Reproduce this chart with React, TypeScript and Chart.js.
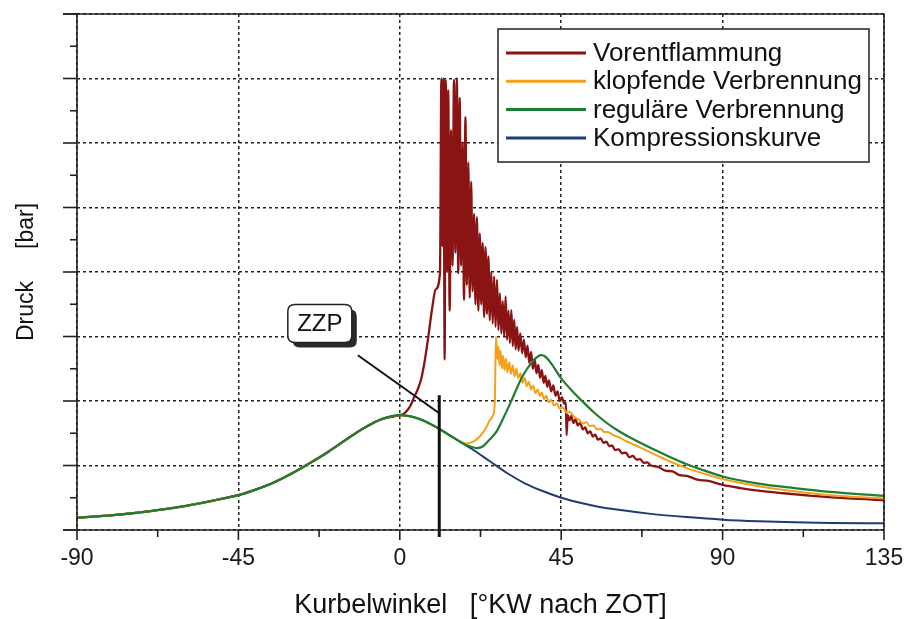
import React, { useEffect, useRef } from 'react';
import { Chart, registerables } from 'chart.js';

Chart.register(...registerables);

// ---- axis ticks ----
const xTicks = [-90, -45, 0, 45, 90, 135];
const yMin = 0;
const yMax = 80;
const yStep = 10;

// ---- series names & colours ----
const seriesNames = ['Vorentflammung', 'klopfende Verbrennung', 'reguläre Verbrennung', 'Kompressionskurve'];
const seriesColors = ['#8a1414', '#f5a01a', '#1e7d32', '#1f3d73'];

// ---- Kompressionskurve ----
const compressionAngles = [-90, -80, -70, -60, -50, -45, -40, -35, -30, -25, -20, -15, -10, -5, 0, 5, 10, 15, 20, 25, 30, 35, 40, 45, 50, 55, 60, 70, 80, 90, 100, 110, 120, 135];
const compressionValues = [1.9, 2.3, 2.9, 3.7, 4.8, 5.4, 6.3, 7.4, 8.8, 10.4, 12.1, 14.0, 15.8, 17.2, 17.8, 17.3, 16.0, 14.3, 12.6, 10.7, 8.8, 7.2, 6.0, 5.0, 4.25, 3.65, 3.2, 2.5, 2.0, 1.6, 1.35, 1.2, 1.1, 1.05];

// ---- reguläre Verbrennung (after leaving the compression curve) ----
const regularAngles = [18, 20, 21.5, 23, 25, 27, 29, 31, 32.5, 34, 35.5, 37, 38.5, 39.5, 40.5, 42, 45, 48, 51, 54, 57, 60, 65, 70, 75, 80, 85, 90, 100, 110, 120, 135];
const regularValues = [13.3, 12.9, 12.7, 12.9, 14.0, 15.3, 17.5, 19.9, 21.8, 23.6, 25.0, 26.1, 26.9, 27.1, 26.9, 26.0, 23.5, 21.6, 19.9, 18.3, 16.9, 15.7, 14.1, 12.7, 11.4, 10.2, 9.2, 8.3, 7.2, 6.5, 5.9, 5.3];

// ---- klopfende Verbrennung ----
const knockAngles = [17, 18.6, 20.5, 22.3, 24, 25.1, 26.0, 26.5, 26.8, 27.2, 27.5, 27.8, 28.1, 28.5, 28.8, 29.2, 29.6, 30, 30.5, 31, 31.5, 32, 32.5, 33, 33.6, 34.2, 34.8, 35.4, 36, 36.6, 37.2, 37.8, 38.4, 39, 39.6, 40.2, 40.8, 41.5, 42.2, 43, 43.8, 44.6, 45.5, 46.5, 47.5, 48.5, 50.2, 51, 52, 53, 54, 55, 56, 57, 58, 59.5, 61, 63, 65, 67, 70, 75, 80, 85, 90, 100, 110, 120, 135];
const knockValues = [13.7, 13.4, 13.7, 14.5, 15.8, 17.0, 17.8, 20.0, 30.0, 26.5, 28.5, 25.5, 27.8, 25.0, 27.0, 24.8, 26.5, 24.5, 26.0, 24.2, 25.5, 23.8, 25.0, 23.5, 24.3, 22.8, 23.6, 22.3, 23.0, 21.8, 22.4, 21.2, 21.8, 20.8, 21.3, 20.3, 20.8, 19.8, 20.2, 19.3, 19.6, 18.8, 19.0, 18.2, 18.3, 17.6, 17.0, 16.5, 16.7, 16.1, 16.2, 15.6, 15.7, 15.2, 15.2, 14.7, 14.4, 13.8, 13.3, 12.8, 12.0, 10.7, 9.6, 8.7, 7.9, 6.8, 6.0, 5.4, 4.9];

// ---- Vorentflammung ----
const preignitionAngles = [0, 1, 2, 3, 4, 5, 6, 7, 8, 9, 10, 11.2,
  11.6, 11.9, 12.2, 12.5, 12.8, 13.2, 13.5, 13.9, 14.3, 14.7, 15.1, 15.5, 15.9, 16.3, 16.7, 17.1, 17.5, 17.9, 18.3, 18.7, 19.1, 19.5, 19.9, 20.3, 20.7, 21.1, 21.5, 21.9, 22.3, 22.7, 23.1, 23.5, 23.9, 24.3, 24.7, 25.1, 25.5, 25.9, 26.3, 26.7, 27.1, 27.5, 27.9, 28.3, 28.7, 29.1, 29.5, 29.9, 30.3, 30.7, 31.1, 31.5, 31.9, 32.3, 32.7, 33.1, 33.6, 34.1, 34.6, 35.1, 35.6, 36.1, 36.6, 37.1, 37.6, 38.1, 38.6, 39.1, 39.6, 40.1, 40.6, 41.1, 41.6, 42.2, 42.8, 43.4, 44, 44.6, 45.2, 45.8, 46.3, 46.5,
  46.8, 47.3, 47.8, 48.4, 49, 49.6, 50.3, 51, 51.7, 52.4, 53.1, 53.8, 54.5, 55.2, 56, 56.8, 57.6, 58.4, 59.2, 60, 61, 62, 63, 64, 65, 66, 67, 68, 69, 70, 72, 74, 76, 78, 80, 83, 86, 90, 95, 100, 107, 115, 125, 135];
const preignitionValues = [17.8, 18.0, 18.5, 19.3, 20.6, 21.8, 23.5, 26.4, 30.2, 34.3, 37.3, 39.8,
  70, 44, 70, 26.4, 69.8, 40, 68.2, 34, 62, 41, 69.8, 43, 70, 39.8, 67, 41, 60, 35.7, 64, 38, 57, 36, 54, 37, 49, 35, 48.5, 34, 46, 35, 44.5, 33, 43.9, 33.5, 42.4, 32.5, 40, 32, 39.3, 31.5, 38.8, 31, 36.7, 30.5, 35.5, 30, 36.2, 29.5, 34, 29, 34.1, 28.5, 32.6, 28, 31.5, 27.8, 30.5, 27.4, 29.5, 26.8, 28.6, 25.9, 27.6, 25, 26.5, 24.3, 25.6, 23.6, 24.8, 22.8, 23.9, 22.2, 23.2, 21.5, 22.4, 20.8, 21.5, 20.0, 20.6, 19.6, 19.8, 14.7,
  17.8, 17.0, 17.7, 16.6, 17.2, 16.2, 16.6, 15.6, 15.9, 15.0, 15.3, 14.5, 14.8, 14.0, 14.2, 13.5, 13.7, 13.0, 13.1, 12.4, 12.5, 11.9, 12.0, 11.3, 11.5, 10.9, 11.0, 10.4, 10.5, 10.0, 9.8, 9.2, 9.1, 8.5, 8.4, 7.8, 7.6, 7.0, 6.5, 6.1, 5.7, 5.3, 4.9, 4.65];

// ---- ZZP annotation (data coordinates) ----
const zzpAngle = 11;
const zzpLineTop = 20.9;
const zzpLabel = 'ZZP';
const zzpLabelAt = { x: -22.3, y: 32 };
const zzpLeaderFrom = { x: -11.7, y: 27.1 };
const zzpLeaderTo = { x: 11, y: 18.1 };

const xTitle = 'Kurbelwinkel   [°KW nach ZOT]';
const yTitle = 'Druck     [bar]';

const FONT = "'Liberation Sans', Arial, Helvetica, sans-serif";

function toPoints(a: number[], v: number[]) {
  return a.map((x, i) => ({ x, y: v[i] }));
}

function compressionUntil(limit: number, inclusive: boolean) {
  const pts = toPoints(compressionAngles, compressionValues);
  return pts.filter((p) => (inclusive ? p.x <= limit : p.x < limit));
}

function roundRect(ctx: CanvasRenderingContext2D, x: number, y: number, w: number, h: number, r: number) {
  ctx.beginPath();
  ctx.moveTo(x + r, y);
  ctx.lineTo(x + w - r, y);
  ctx.quadraticCurveTo(x + w, y, x + w, y + r);
  ctx.lineTo(x + w, y + h - r);
  ctx.quadraticCurveTo(x + w, y + h, x + w - r, y + h);
  ctx.lineTo(x + r, y + h);
  ctx.quadraticCurveTo(x, y + h, x, y + h - r);
  ctx.lineTo(x, y + r);
  ctx.quadraticCurveTo(x, y, x + r, y);
  ctx.closePath();
}

const decorPlugin = {
  id: 'decor',
  afterDatasetsDraw(chart: any) {
    const { ctx, chartArea: ca } = chart;
    const xs = chart.scales.x;
    const ys = chart.scales.y;
    ctx.save();

    // frame and axes
    ctx.strokeStyle = '#222';
    ctx.lineWidth = 1.6;
    ctx.setLineDash([]);
    ctx.beginPath();
    ctx.moveTo(ca.left - 14, ca.top);
    ctx.lineTo(ca.right, ca.top);
    ctx.lineTo(ca.right, ca.bottom);
    ctx.lineTo(ca.left - 14, ca.bottom);
    ctx.moveTo(ca.left, ca.top);
    ctx.lineTo(ca.left, ca.bottom);
    ctx.stroke();

    // y ticks (major + minor)
    for (let v = yMin; v <= yMax; v += yStep / 2) {
      const py = ys.getPixelForValue(v);
      const len = v % yStep === 0 ? 14 : 7;
      ctx.beginPath();
      ctx.moveTo(ca.left - len, py);
      ctx.lineTo(ca.left, py);
      ctx.stroke();
    }
    // x ticks (major + minor)
    for (let i = 0; i < xTicks.length; i++) {
      const major = xs.getPixelForValue(xTicks[i]);
      ctx.beginPath();
      ctx.moveTo(major, ca.bottom);
      ctx.lineTo(major, ca.bottom + 10);
      ctx.stroke();
      if (i < xTicks.length - 1) {
        const minor = xs.getPixelForValue((xTicks[i] + xTicks[i + 1]) / 2);
        ctx.beginPath();
        ctx.moveTo(minor, ca.bottom);
        ctx.lineTo(minor, ca.bottom + 7);
        ctx.stroke();
      }
    }

    // ZZP vertical marker
    const zx = xs.getPixelForValue(zzpAngle);
    ctx.strokeStyle = '#111';
    ctx.lineWidth = 3;
    ctx.beginPath();
    ctx.moveTo(zx, ys.getPixelForValue(zzpLineTop));
    ctx.lineTo(zx, ca.bottom + 7);
    ctx.stroke();

    // leader line
    ctx.lineWidth = 2;
    ctx.beginPath();
    ctx.moveTo(xs.getPixelForValue(zzpLeaderFrom.x), ys.getPixelForValue(zzpLeaderFrom.y));
    ctx.lineTo(xs.getPixelForValue(zzpLeaderTo.x), ys.getPixelForValue(zzpLeaderTo.y));
    ctx.stroke();

    // ZZP box
    const cx = xs.getPixelForValue(zzpLabelAt.x);
    const cy = ys.getPixelForValue(zzpLabelAt.y);
    const bw = 64, bh = 38;
    const bx = cx - bw / 2, by = cy - bh / 2;
    ctx.fillStyle = '#2a2a2a';
    roundRect(ctx, bx + 5, by + 5, bw, bh, 7);
    ctx.fill();
    ctx.fillStyle = '#ffffff';
    roundRect(ctx, bx, by, bw, bh, 7);
    ctx.fill();
    ctx.strokeStyle = '#222';
    ctx.lineWidth = 1.5;
    ctx.stroke();
    ctx.fillStyle = '#111';
    ctx.font = `24px ${FONT}`;
    ctx.textAlign = 'center';
    ctx.textBaseline = 'middle';
    ctx.fillText(zzpLabel, cx, cy + 1);

    // legend
    const lw = 371, lh = 133;
    const lx = ca.right - 15 - lw;
    const ly = ca.top + 15;
    ctx.fillStyle = '#ffffff';
    ctx.fillRect(lx, ly, lw, lh);
    ctx.strokeStyle = '#222';
    ctx.lineWidth = 1.5;
    ctx.strokeRect(lx, ly, lw, lh);
    ctx.font = `26px ${FONT}`;
    ctx.textAlign = 'left';
    ctx.textBaseline = 'middle';
    for (let i = 0; i < seriesNames.length; i++) {
      const ry = ly + 24 + i * 28.3;
      ctx.strokeStyle = seriesColors[i];
      ctx.lineWidth = 3;
      ctx.beginPath();
      ctx.moveTo(lx + 8, ry);
      ctx.lineTo(lx + 88, ry);
      ctx.stroke();
      ctx.fillStyle = '#111';
      ctx.fillText(seriesNames[i], lx + 95, ry + 1);
    }

    // axis titles
    ctx.fillStyle = '#111';
    ctx.font = `27px ${FONT}`;
    ctx.textAlign = 'center';
    ctx.textBaseline = 'middle';
    ctx.fillText(xTitle, (ca.left + ca.right) / 2, 606);
    ctx.save();
    ctx.translate(27, (ca.top + ca.bottom) / 2);
    ctx.rotate(-Math.PI / 2);
    ctx.font = `23px ${FONT}`;
    ctx.fillText(yTitle, 0, 0);
    ctx.restore();

    ctx.restore();
  },
};

export default function App() {
  const canvasRef = useRef<HTMLCanvasElement | null>(null);

  useEffect(() => {
    const canvas = canvasRef.current;
    if (!canvas) return;

    const series = [
      [...compressionUntil(0, false), ...toPoints(preignitionAngles, preignitionValues)],
      [...compressionUntil(15, true), ...toPoints(knockAngles, knockValues)],
      [...compressionUntil(15, true), ...toPoints(regularAngles, regularValues)],
      toPoints(compressionAngles, compressionValues),
    ];
    const drawOrder = [2, 1, 0, 3];
    const widths = [2.3, 2, 2.2, 2];

    const chart = new Chart(canvas, {
      type: 'line',
      data: {
        datasets: series.map((data, i) => ({
          label: seriesNames[i],
          data,
          borderColor: seriesColors[i],
          backgroundColor: seriesColors[i],
          borderWidth: widths[i],
          pointRadius: 0,
          fill: false,
          cubicInterpolationMode: 'monotone' as const,
          order: drawOrder[i],
        })),
      },
      options: {
        animation: false,
        responsive: false,
        devicePixelRatio: 1,
        layout: { padding: { top: 14, right: 21, left: 0, bottom: 0 } },
        plugins: { legend: { display: false }, tooltip: { enabled: false } },
        scales: {
          x: {
            type: 'linear',
            min: xTicks[0],
            max: xTicks[xTicks.length - 1],
            afterBuildTicks: (scale: any) => {
              scale.ticks = xTicks.map((value) => ({ value }));
            },
            afterFit: (scale: any) => {
              scale.height = 89;
              scale.paddingLeft = 0;
              scale.paddingRight = 0;
            },
            ticks: {
              autoSkip: false,
              maxRotation: 0,
              padding: 15,
              color: '#1a1a1a',
              font: { family: FONT, size: 23 },
              callback: (v: any) => String(v),
            },
            grid: { color: '#222', lineWidth: 1.5, drawTicks: false },
            border: { display: false, dash: [3, 3] },
          },
          y: {
            type: 'linear',
            min: yMin,
            max: yMax,
            afterFit: (scale: any) => {
              scale.width = 77;
              scale.paddingTop = 0;
              scale.paddingBottom = 0;
            },
            ticks: { display: false, stepSize: yStep },
            grid: { color: '#222', lineWidth: 1.5, drawTicks: false },
            border: { display: false, dash: [3, 3] },
          },
        },
      },
      plugins: [decorPlugin],
    });

    return () => chart.destroy();
  }, []);

  return (
    <div style={{ position: 'fixed', left: 0, top: 0, width: 905, height: 619, background: '#ffffff' }}>
      <canvas ref={canvasRef} width={905} height={619} style={{ display: 'block' }} />
    </div>
  );
}
